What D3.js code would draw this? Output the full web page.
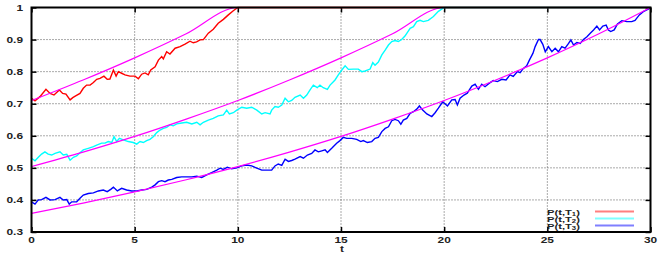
<!DOCTYPE html>
<html>
<head>
<meta charset="utf-8">
<script src="https://cdn.jsdelivr.net/npm/d3@7/dist/d3.min.js"></script>
<style>
  body { margin: 0; background: #fff; }
  svg text { font-family: "Liberation Sans", Arial, sans-serif; font-size: 8.5px; font-weight: bold; fill: #222; }
</style>
</head>
<body>
<svg id="chart" width="658" height="255"></svg>
<script>
// simulated bond prices P(t,T) for maturities T1=10, T2=20, T3=30
var pathT1 = [[0,0.717],[0.17,0.709],[0.41,0.722],[0.7,0.745],[0.9,0.732],[1.09,0.727],[1.35,0.743],[1.51,0.732],
  [1.67,0.73],[1.87,0.712],[2.0,0.719],[2.16,0.725],[2.35,0.732],[2.51,0.748],[2.67,0.758],[2.84,0.758],[3.0,0.766],
  [3.16,0.776],[3.32,0.779],[3.51,0.786],[3.67,0.776],[3.8,0.777],[3.97,0.805],[4.1,0.786],[4.21,0.8],[4.37,0.795],
  [4.53,0.79],[4.77,0.786],[5.02,0.786],[5.18,0.778],[5.34,0.792],[5.5,0.796],[5.66,0.79],[5.78,0.805],[5.99,0.815],
  [6.15,0.836],[6.31,0.847],[6.39,0.84],[6.55,0.862],[6.71,0.855],[6.96,0.873],[7.2,0.878],[7.44,0.886],[7.68,0.895],
  [7.84,0.89],[8.0,0.893],[8.17,0.899],[8.33,0.9],[8.57,0.92],[8.81,0.932],[9.05,0.951],[9.3,0.963],[9.54,0.977],
  [9.78,0.99],[10,1],[30,1]];

var pathT2 = [[0,0.53],[0.17,0.522],[0.33,0.533],[0.49,0.543],[0.65,0.55],[0.81,0.543],[0.98,0.54],[1.14,0.545],
  [1.38,0.55],[1.54,0.54],[1.71,0.542],[1.87,0.524],[2.03,0.533],[2.19,0.537],[2.35,0.547],[2.51,0.556],[2.75,0.561],
  [3.0,0.566],[3.16,0.571],[3.4,0.577],[3.56,0.577],[3.72,0.582],[3.89,0.579],[4.0,0.597],[4.13,0.582],[4.26,0.592],
  [4.45,0.587],[4.69,0.582],[4.93,0.579],[5.1,0.574],[5.26,0.582],[5.42,0.579],[5.58,0.585],[5.74,0.589],[5.9,0.597],
  [6.07,0.61],[6.23,0.618],[6.39,0.623],[6.55,0.626],[6.71,0.634],[6.87,0.631],[7.04,0.637],[7.28,0.64],[7.52,0.642],
  [7.77,0.637],[8.01,0.642],[8.17,0.634],[8.33,0.642],[8.57,0.649],[8.81,0.654],[9.05,0.662],[9.3,0.665],[9.46,0.68],
  [9.59,0.668],[9.78,0.672],[9.95,0.68],[10.19,0.689],[10.43,0.686],[10.67,0.689],[10.92,0.68],[11.16,0.668],
  [11.32,0.672],[11.56,0.668],[11.64,0.68],[11.8,0.691],[11.96,0.689],[12.13,0.696],[12.29,0.717],[12.45,0.706],
  [12.61,0.71],[12.77,0.72],[13.02,0.727],[13.18,0.717],[13.34,0.727],[13.5,0.743],[13.66,0.758],[13.85,0.75],
  [13.98,0.758],[14.14,0.75],[14.34,0.745],[14.47,0.758],[14.71,0.774],[14.87,0.79],[15.04,0.805],[15.2,0.818],
  [15.36,0.807],[15.6,0.808],[15.84,0.808],[16.01,0.8],[16.17,0.802],[16.41,0.808],[16.54,0.828],[16.65,0.82],
  [16.81,0.83],[16.98,0.852],[17.14,0.867],[17.3,0.883],[17.46,0.894],[17.62,0.897],[17.78,0.894],[17.94,0.9],
  [18.1,0.911],[18.35,0.935],[18.51,0.94],[18.67,0.956],[18.83,0.96],[18.99,0.956],[19.23,0.96],[19.48,0.972],
  [19.72,0.988],[20,1],[30,1]];

var pathT3 = [[0,0.394],[0.17,0.387],[0.33,0.4],[0.49,0.401],[0.7,0.408],[0.9,0.4],[1.14,0.401],[1.38,0.408],
  [1.54,0.4],[1.71,0.401],[1.83,0.387],[1.95,0.394],[2.19,0.394],[2.35,0.405],[2.51,0.415],[2.75,0.42],[3.0,0.422],
  [3.24,0.428],[3.48,0.431],[3.67,0.426],[3.84,0.433],[3.97,0.44],[4.16,0.428],[4.37,0.436],[4.61,0.431],[4.86,0.428],
  [5.1,0.428],[5.34,0.431],[5.58,0.433],[5.83,0.44],[5.99,0.447],[6.15,0.457],[6.31,0.46],[6.47,0.457],[6.63,0.462],
  [6.8,0.464],[7.04,0.47],[7.28,0.472],[7.52,0.472],[7.77,0.472],[8.01,0.474],[8.25,0.47],[8.49,0.478],[8.73,0.485],
  [8.98,0.493],[9.14,0.499],[9.3,0.495],[9.49,0.502],[9.7,0.497],[9.95,0.5],[10.19,0.506],[10.43,0.509],[10.67,0.506],
  [10.92,0.499],[11.16,0.493],[11.4,0.493],[11.64,0.493],[11.8,0.506],[11.96,0.512],[12.13,0.508],[12.29,0.527],
  [12.45,0.52],[12.61,0.523],[12.77,0.527],[13.02,0.535],[13.18,0.53],[13.37,0.54],[13.58,0.545],[13.74,0.556],
  [13.9,0.55],[14.07,0.553],[14.23,0.556],[14.34,0.548],[14.55,0.561],[14.79,0.577],[14.95,0.585],[15.11,0.595],
  [15.28,0.592],[15.52,0.592],[15.76,0.589],[15.96,0.582],[16.08,0.585],[16.28,0.579],[16.49,0.582],[16.65,0.592],
  [16.81,0.595],[16.98,0.613],[17.14,0.623],[17.3,0.628],[17.46,0.647],[17.62,0.651],[17.78,0.647],[17.9,0.636],
  [18.02,0.649],[18.19,0.654],[18.35,0.67],[18.51,0.675],[18.67,0.683],[18.8,0.693],[18.96,0.68],[19.16,0.668],
  [19.4,0.66],[19.56,0.672],[19.72,0.686],[19.93,0.706],[20.04,0.7],[20.16,0.693],[20.37,0.712],[20.53,0.713],
  [20.64,0.696],[20.77,0.717],[20.96,0.727],[21.12,0.733],[21.34,0.755],[21.5,0.761],[21.66,0.745],[21.82,0.761],
  [21.98,0.753],[22.19,0.764],[22.38,0.772],[22.58,0.769],[22.79,0.776],[23.0,0.774],[23.19,0.79],[23.35,0.785],
  [23.55,0.8],[23.68,0.797],[23.84,0.81],[24.0,0.818],[24.13,0.836],[24.3,0.857],[24.41,0.878],[24.57,0.9],
  [24.65,0.9],[24.78,0.885],[24.9,0.862],[25.05,0.878],[25.22,0.862],[25.38,0.873],[25.54,0.862],[25.7,0.878],
  [25.86,0.873],[26.03,0.888],[26.14,0.899],[26.27,0.883],[26.43,0.891],[26.59,0.888],[26.75,0.9],[26.92,0.909],
  [27.08,0.92],[27.24,0.93],[27.4,0.942],[27.53,0.93],[27.69,0.942],[27.85,0.945],[27.96,0.93],[28.07,0.925],
  [28.24,0.93],[28.4,0.949],[28.61,0.959],[28.85,0.956],[29.09,0.956],[29.25,0.96],[29.46,0.977],[29.65,0.987],
  [29.89,0.995],[30,1]];

// deterministic curves (magenta), read at every 2.5 units of t
var curveT1 = [[0,0.710],[2.5,0.774],[5,0.843],[7.5,0.918],[10,1],[30,1]];
var curveT2 = [[0,0.504],[2.5,0.549],[5,0.598],[7.5,0.652],[10,0.710],[12.5,0.774],[15,0.843],[17.5,0.918],[20,1],[30,1]];
var curveT3 = [[0,0.358],[2.5,0.390],[5,0.425],[7.5,0.463],[10,0.504],[12.5,0.549],[15,0.598],[17.5,0.652],
  [20,0.710],[22.5,0.774],[25,0.843],[27.5,0.918],[30,1]];

var xTicks = [0, 5, 10, 15, 20, 25, 30];
var yTicks = [0.3, 0.4, 0.5, 0.6, 0.7, 0.8, 0.9, 1];
var legendSubs = ['1', '2', '3'];
var pathColors = ['#ff0000', '#00ffff', '#0000ff'];

var plotL = 31.5, plotR = 650.5, plotT = 7.5, plotB = 232;
var stretch = 'scale(1.4,1)';

var svg = d3.select('#chart');

var x = d3.scaleLinear().domain([0, 30]).range([plotL, plotR]);
var y = d3.scaleLinear().domain([0.3, 1]).range([plotB, plotT]);

// grid
svg.selectAll('.gx')
  .data(xTicks.slice(1, -1)).enter()
  .append('line')
  .attr('x1', function(d){ return x(d); })
  .attr('x2', function(d){ return x(d); })
  .attr('y1', plotT).attr('y2', plotB)
  .style('stroke', '#555')
  .style('stroke-dasharray', '1,2');

svg.selectAll('.gy')
  .data(yTicks.slice(1, -1)).enter()
  .append('line')
  .attr('x1', plotL).attr('x2', plotR)
  .attr('y1', function(d){ return y(d); })
  .attr('y2', function(d){ return y(d); })
  .style('stroke', '#555')
  .style('stroke-dasharray', '1,2');

// tick marks on all sides
var axB = svg.append('g').attr('transform', 'translate(0,' + plotB + ')')
  .call(d3.axisTop(x).tickValues(xTicks).tickSize(5).tickFormat(''));
var axT = svg.append('g').attr('transform', 'translate(0,' + plotT + ')')
  .call(d3.axisBottom(x).tickValues(xTicks).tickSize(5).tickFormat(''));
var axL = svg.append('g').attr('transform', 'translate(' + plotL + ',0)')
  .call(d3.axisRight(y).tickValues(yTicks).tickSize(5).tickFormat(''));
var axR = svg.append('g').attr('transform', 'translate(' + plotR + ',0)')
  .call(d3.axisLeft(y).tickValues(yTicks).tickSize(5).tickFormat(''));
[axB, axT, axL, axR].forEach(function(a){
  a.select('.domain').remove();
  a.selectAll('line').style('stroke', '#000').style('stroke-width', 1.5);
});

// tick labels
svg.selectAll('.xl')
  .data(xTicks).enter()
  .append('text')
  .attr('transform', function(d){ return 'translate(' + x(d) + ',242.5) ' + stretch; })
  .attr('text-anchor', 'middle')
  .text(function(d){ return d; });

svg.selectAll('.yl')
  .data(yTicks).enter()
  .append('text')
  .attr('transform', function(d){ return 'translate(23,' + (y(d) + 3) + ') ' + stretch; })
  .attr('text-anchor', 'end')
  .text(function(d){ return d3.format('.1~f')(d); });

svg.append('text')
  .attr('transform', 'translate(' + (x(15) + 1) + ',252) ' + stretch)
  .attr('text-anchor', 'middle')
  .text('t');

// data
var line = d3.line()
  .x(function(d){ return x(d[0]); })
  .y(function(d){ return y(d[1]); });

var smooth = d3.line()
  .x(function(d){ return x(d[0]); })
  .y(function(d){ return y(d[1]); })
  .curve(d3.curveMonotoneX);

[pathT1, pathT2, pathT3].forEach(function(p, i){
  svg.append('path')
    .attr('d', line(p))
    .style('fill', 'none')
    .style('stroke', pathColors[i])
    .style('stroke-width', 1.4);
});

[curveT1, curveT2, curveT3].forEach(function(p){
  svg.append('path')
    .attr('d', smooth(p))
    .style('fill', 'none')
    .style('stroke', '#ff00ff')
    .style('stroke-width', 1.2);
});

// frame
svg.append('rect')
  .attr('x', plotL).attr('y', plotT)
  .attr('width', plotR - plotL).attr('height', plotB - plotT)
  .style('fill', 'none')
  .style('stroke', '#000')
  .style('stroke-width', 2);

// legend
var leg = svg.selectAll('.leg')
  .data(legendSubs).enter()
  .append('g')
  .attr('transform', function(d, i){ return 'translate(0,' + (i * 7) + ')'; });

leg.append('text')
  .attr('transform', 'translate(547,214.5) ' + stretch)
  .style('font-size', '8px')
  .html(function(d){ return 'P(t,T<tspan dy="1.5" font-size="5.5">' + d + '</tspan><tspan dy="-1.5">)</tspan>'; });

leg.append('line')
  .attr('x1', 595).attr('x2', 634)
  .attr('y1', 211.5).attr('y2', 211.5)
  .style('stroke', function(d, i){ return pathColors[i]; })
  .style('stroke-opacity', 0.5)
  .style('stroke-width', 2);
</script>
</body>
</html>
